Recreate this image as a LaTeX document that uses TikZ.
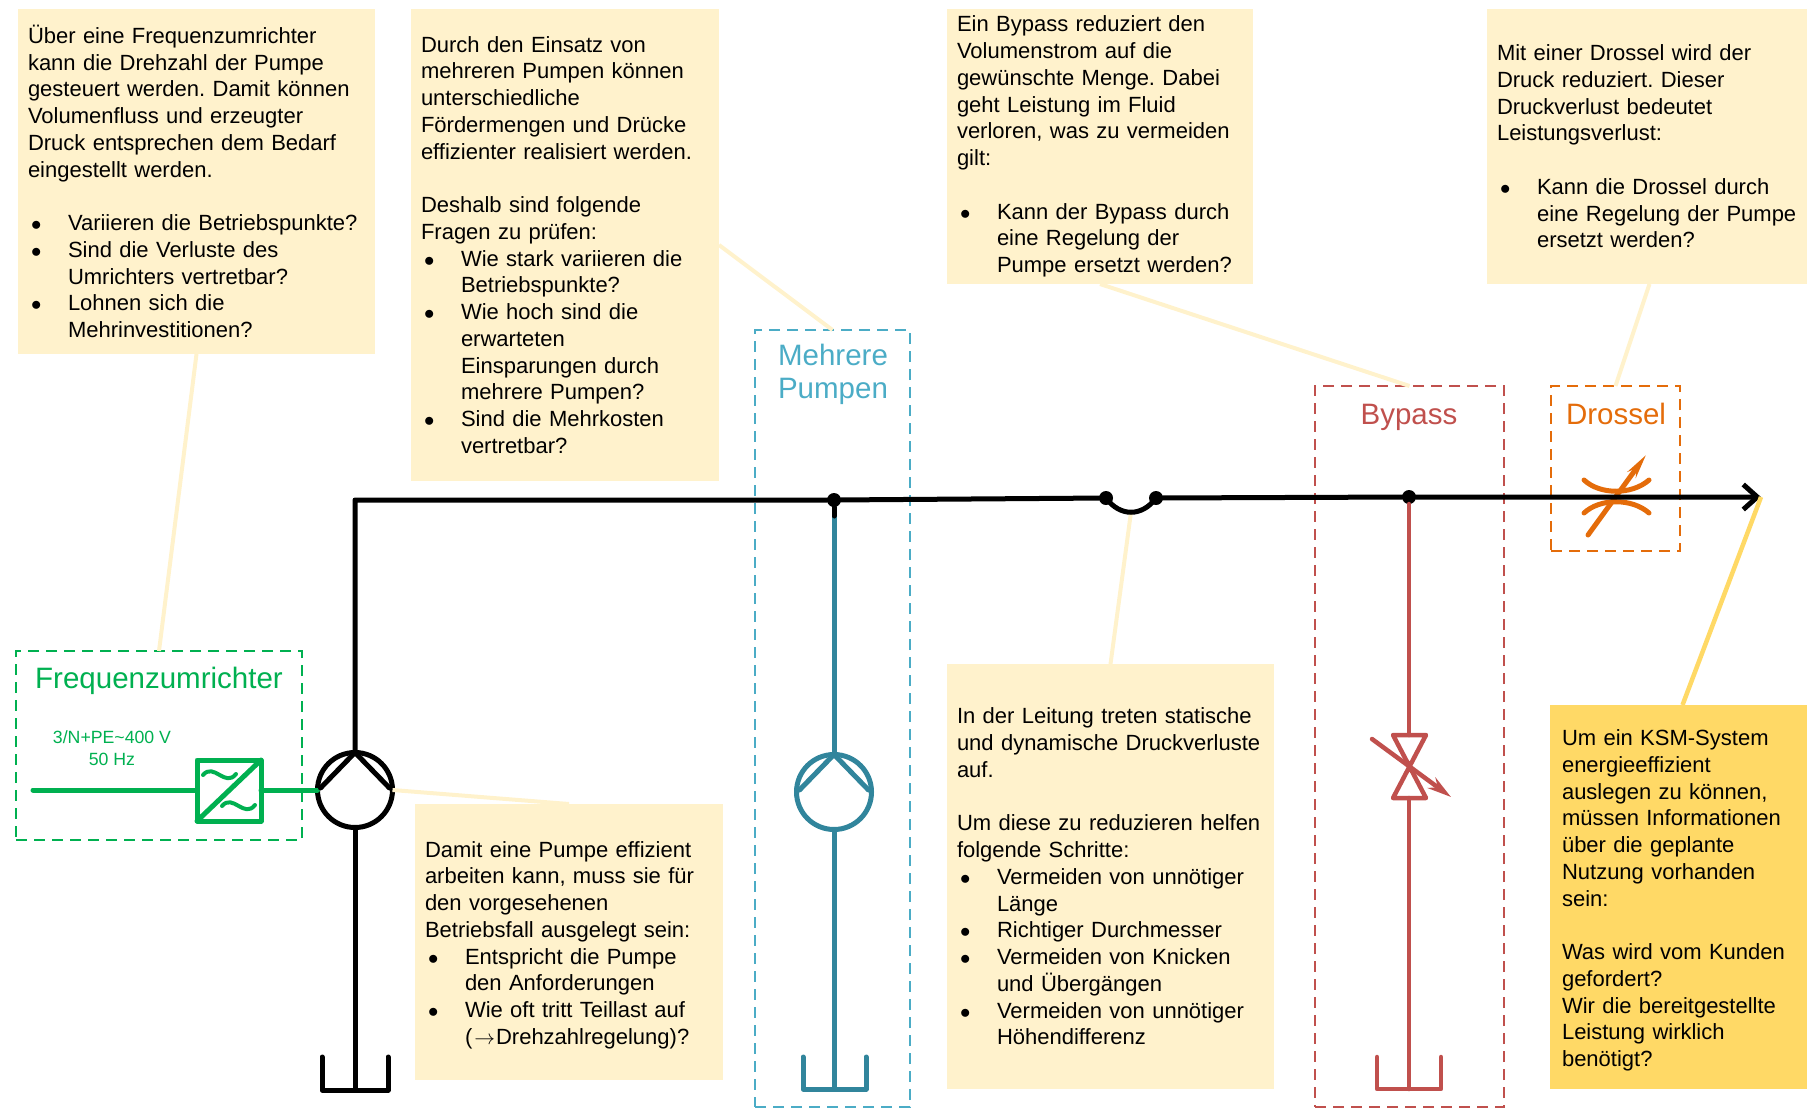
\documentclass[tikz,border=0pt]{standalone}
\usepackage{fontspec}
\setmainfont{Liberation Sans}
\usetikzlibrary{arrows.meta}
\definecolor{noteyellow}{HTML}{FFF2CC}
\definecolor{notegold}{HTML}{FFD966}
\definecolor{freqgreen}{HTML}{00B050}
\definecolor{pumpblue}{HTML}{4BACC6}
\definecolor{pumpteal}{HTML}{31859C}
\definecolor{bypassred}{HTML}{C0504D}
\definecolor{throttleorange}{HTML}{E46C0A}
\newcommand{\bull}{\makebox[40pt][l]{\hspace{3pt}$\bullet$}}
\newcommand{\cont}{\hspace*{40pt}}
\frenchspacing

\begin{document}
\begin{tikzpicture}[x=1pt, y=-1pt]
  \tikzset{note/.style={anchor=north west, fill=noteyellow, inner xsep=10pt, inner ysep=0pt, outer sep=0pt, align=left, font=\fontsize{22}{26.75}\selectfont}}
  \tikzset{frame/.style={anchor=north west, draw, dash pattern=on 11pt off 7pt, line width=1.7pt, inner sep=0pt, outer sep=0pt}}
  \tikzset{title/.style={align=center, font=\fontsize{29.5}{33}\selectfont}}
  \tikzset{pipe/.style={line width=5pt, line cap=round, line join=round}}
  \tikzset{link/.style={line width=4pt, noteyellow}}
  \tikzset{joint/.style={circle, fill=black, inner sep=0pt, outer sep=0pt, minimum size=14pt}}
  \tikzset{pumpcircle/.style={circle, draw, line width=5pt, inner sep=0pt, outer sep=0pt, minimum size=75pt}}
  \useasboundingbox (0,0) rectangle (1807,1109);

  \node[note, text width=337pt, minimum height=345pt] (noteFreq) at (18,9) {Über eine Frequenzumrichter\\kann die Drehzahl der Pumpe\\gesteuert werden. Damit können\\Volumenfluss und erzeugter\\Druck entsprechen dem Bedarf\\eingestellt werden.\\[\baselineskip]\bull Variieren die Betriebspunkte?\\\bull Sind die Verluste des\\\cont Umrichters vertretbar?\\\bull Lohnen sich die\\\cont Mehrinvestitionen?};
  \node[note, text width=288pt, minimum height=472pt] (noteMulti) at (411,9) {Durch den Einsatz von\\mehreren Pumpen können\\unterschiedliche\\Fördermengen und Drücke\\effizienter realisiert werden.\\[\baselineskip]Deshalb sind folgende\\Fragen zu prüfen:\\\bull Wie stark variieren die\\\cont Betriebspunkte?\\\bull Wie hoch sind die\\\cont erwarteten\\\cont Einsparungen durch\\\cont mehrere Pumpen?\\\bull Sind die Mehrkosten\\\cont vertretbar?};
  \node[note, text width=286pt, minimum height=275pt] (noteBypass) at (947,9) {Ein Bypass reduziert den\\Volumenstrom auf die\\gewünschte Menge. Dabei\\geht Leistung im Fluid\\verloren, was zu vermeiden\\gilt:\\[\baselineskip]\bull Kann der Bypass durch\\\cont eine Regelung der\\\cont Pumpe ersetzt werden?};
  \node[note, text width=305pt, minimum height=275pt] (noteThrottle) at (1487,9) {Mit einer Drossel wird der\\Druck reduziert. Dieser\\Druckverlust bedeutet\\Leistungsverlust:\\[\baselineskip]\bull Kann die Drossel durch\\\cont eine Regelung der Pumpe\\\cont ersetzt werden?};
  \node[note, text width=288pt, minimum height=276pt] (notePump) at (415,804) {\rule{0pt}{22pt}Damit eine Pumpe effizient\\arbeiten kann, muss sie für\\den vorgesehenen\\Betriebsfall ausgelegt sein:\\\bull Entspricht die Pumpe\\\cont den Anforderungen\\\bull Wie oft tritt Teillast auf\\\cont (\kern2pt$\rightarrow$\kern1pt Drehzahlregelung)?};
  \node[note, text width=307pt, minimum height=425pt] (noteLine) at (947,664) {In der Leitung treten statische\\und dynamische Druckverluste\\auf.\\[\baselineskip]Um diese zu reduzieren helfen\\folgende Schritte:\\\bull Vermeiden von unnötiger\\\cont Länge\\\bull Richtiger Durchmesser\\\bull Vermeiden von Knicken\\\cont und Übergängen\\\bull Vermeiden von unnötiger\\\cont Höhendifferenz};
  \node[note, fill=notegold, inner xsep=12pt, text width=241pt, minimum height=384pt] (noteUse) at (1550,705) {\rule{0pt}{23pt}Um ein KSM-System\\energieeffizient\\auslegen zu können,\\müssen Informationen\\über die geplante\\Nutzung vorhanden\\sein:\\[\baselineskip]Was wird vom Kunden\\gefordert?\\Wir die bereitgestellte\\Leistung wirklich\\benötigt?};

  \node[frame, draw=freqgreen, minimum width=286pt, minimum height=189pt] (frameFreq) at (16,651) {};
  \node[frame, draw=pumpblue, minimum width=155pt, minimum height=777pt] (frameMulti) at (755,330) {};
  \node[frame, draw=bypassred, minimum width=189pt, minimum height=721pt] (frameBypass) at (1315,386) {};
  \node[frame, draw=throttleorange, minimum width=129pt, minimum height=165pt] (frameThrottle) at (1551,386) {};

  \node[title, text=freqgreen] (titleFreq) at (159,681) {Frequenzumrichter};
  \node[title, text=pumpblue] (titleMulti) at (833,374) {Mehrere\\Pumpen};
  \node[title, text=bypassred] (titleBypass) at (1409,417) {Bypass};
  \node[title, text=throttleorange] (titleThrottle) at (1616,414) {Drossel};
  \node[text=freqgreen, align=center, font=\fontsize{17.7}{22}\selectfont] (supply) at (112,748) {3/N+PE\textasciitilde 400 V\\50 Hz};

  \coordinate (jumpLow) at (1131,512);
  \draw[link] (noteFreq.south) -- (frameFreq.north);
  \draw[link] (noteMulti.east) -- (frameMulti.north);
  \draw[link] (noteBypass.south) -- (frameBypass.north);
  \draw[link] (noteThrottle.south) -- (frameThrottle.north);
  \draw[link] (noteLine.north) -- (jumpLow);

  \coordinate (supplyIn) at (33,790);
  \node[pumpcircle] (pumpMain) at (355,790) {};
  \draw[pipe, freqgreen] (supplyIn) -- (197,790);
  \draw[pipe, freqgreen] (261,790) -- (pumpMain.west);
  \draw[pipe, freqgreen] (197,760) rectangle (261,821);
  \draw[pipe, freqgreen] (197,821) -- (261,760);
  \draw[pipe, line width=4pt, freqgreen] (203,775) .. controls (214,762) and (225,788) .. (236,774);
  \draw[pipe, line width=4pt, freqgreen] (222,806) .. controls (233,793) and (244,819) .. (255,805);

  \draw[link] (pumpMain.east) -- (notePump.north);

  \coordinate (tankMain) at (355,1090);
  \draw[pipe] ([shift={(3,-2)}]pumpMain.west) -- (pumpMain.north) -- ([shift={(-3,-2)}]pumpMain.east);
  \draw[pipe] (pumpMain.south) -- (tankMain);
  \draw[pipe] (tankMain) ++(-33,-33) -- ++(0,33) -- ++(66,0) -- ++(0,-33);

  \node[pumpcircle, draw=pumpteal] (pumpMulti) at (834,792) {};
  \coordinate (tankMulti) at (834,1089);
  \coordinate (stubMulti) at (834,516);
  \draw[pipe, pumpteal] (stubMulti) -- (pumpMulti.north);
  \draw[pipe, pumpteal] ([shift={(3,-2)}]pumpMulti.west) -- (pumpMulti.north) -- ([shift={(-3,-2)}]pumpMulti.east);
  \draw[pipe, pumpteal] (pumpMulti.south) -- (tankMulti);
  \draw[pipe, pumpteal] (tankMulti) ++(-31,-32) -- ++(0,32) -- ++(63,0) -- ++(0,-32);

  \coordinate (valveTop) at (1409,735);
  \coordinate (valveBottom) at (1409,798);
  \coordinate (tankBypass) at (1409,1089);
  \draw[pipe, bypassred, line width=4.5pt] (1393,735) -- (1426,735) -- (1393,798) -- (1426,798) -- cycle;
  \draw[pipe, bypassred, line width=4.5pt, -{Stealth[length=24pt,width=13pt]}] (1372,739) -- (1451,797);
  \draw[pipe, bypassred, line width=4.5pt] (valveBottom) -- (tankBypass);
  \draw[pipe, bypassred, line width=4.5pt] (tankBypass) ++(-32,-32) -- ++(0,32) -- ++(64,0) -- ++(0,-32);

  \draw[pipe, throttleorange] (1584,480) .. controls (1600,495) and (1632,495) .. (1649,480);
  \draw[pipe, throttleorange] (1584,513) .. controls (1600,498) and (1632,498) .. (1649,513);
  \draw[pipe, throttleorange, -{Stealth[length=24pt,width=10pt]}] (1588,535) -- (1646,455);

  \coordinate (corner) at (355,500);
  \coordinate (lineEnd) at (1761,497);
  \node[joint] (jointMulti) at (834,500) {};
  \node[joint] (jumpLeft) at (1106,498) {};
  \node[joint] (jumpRight) at (1156,498) {};
  \node[joint] (jointBypass) at (1409,497) {};
  \draw[pipe, bypassred, line width=4.5pt] (jointBypass) -- (valveTop);
  \draw[pipe] (jointMulti) -- (stubMulti);
  \draw[pipe] (pumpMain.north) -- (corner) -- (jointMulti) -- (jumpLeft);
  \draw[pipe] (jumpLeft.center) .. controls +(14,19) and +(-14,19) .. (jumpRight.center);
  \draw[pipe, -{Straight Barb[length=14pt,width=25pt]}] (jumpRight) -- (jointBypass) -- (lineEnd);
  \draw[link, line width=4.5pt, notegold] (noteUse.north) -- (lineEnd);
\end{tikzpicture}
\end{document}
